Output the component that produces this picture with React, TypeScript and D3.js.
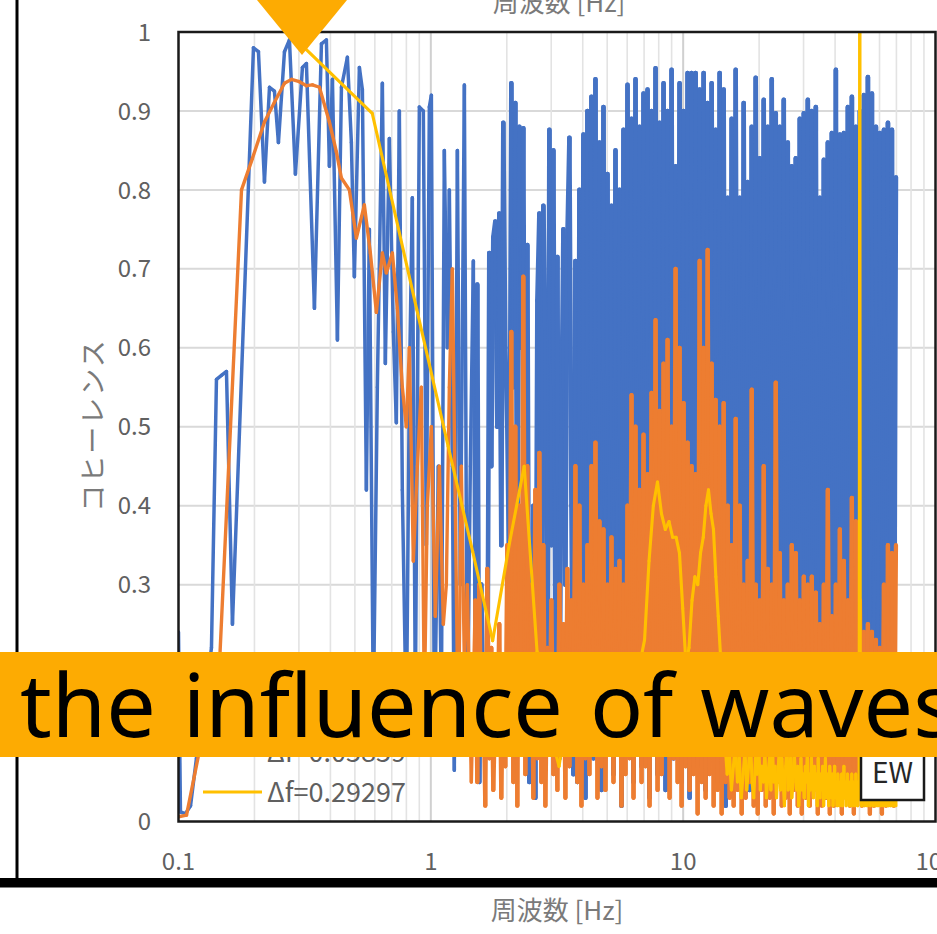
import React from "react";
import * as d3 from "d3";

const WIDTH = 937;
const HEIGHT = 934;

const xTickValues = [0.1, 1, 10, 100];
const xTickLabels = ["0.1", "1", "10", "100"];
const yTickValues = [0, 0.1, 0.2, 0.3, 0.4, 0.5, 0.6, 0.7, 0.8, 0.9, 1];
const yTickLabels = ["0", "0.1", "0.2", "0.3", "0.4", "0.5", "0.6", "0.7", "0.8", "0.9", "1"];
const xMinorGrid = [0.2, 0.3, 0.4, 0.5, 0.6, 0.7, 0.8, 0.9, 2, 3, 4, 5, 6, 7, 8, 9, 20, 30, 40, 50, 60, 70, 80, 90];
const xMajorGrid = [1, 10];

const seriesNames = ["Δf=0.01465", "Δf=0.05859", "Δf=0.29297"];
const seriesColors = ["#4472c4", "#ed7d31", "#ffc000"];
const seriesWidths = [3.5, 3.4, 3.1];
const denseWidths = [4.6, 4.3, 3.1];

const xAxisTitle = "周波数 [Hz]";
const yAxisTitle = "コヒーレンス";
const stationLabel = "EW";
const bannerText = "the influence of waves";

// Blue series (fine Δf): low-frequency part read point by point
const blueLowFreq = [
  0.1, 0.1018, 0.1066, 0.1116, 0.1178, 0.1279, 0.1351, 0.1414, 0.148, 0.1549,
  0.1636, 0.1982, 0.2074, 0.2191, 0.2294, 0.24, 0.2489, 0.263, 0.2752, 0.2906,
  0.3098, 0.3213, 0.3457, 0.3685, 0.3856, 0.3963, 0.4074, 0.4264, 0.4423, 0.467,
  0.4843, 0.4977, 0.521, 0.5355, 0.5554, 0.5706, 0.5918, 0.6138, 0.6425, 0.6603,
  0.6848, 0.7103, 0.73, 0.7502, 0.771, 0.7998, 0.822, 0.8447, 0.8682, 0.9005,
  0.9339, 0.9598, 0.9865, 1.005, 1.033, 1.071, 1.101, 1.131, 1.162, 1.184,
  1.217, 1.239, 1.274, 1.309, 1.358, 1.395, 1.434, 1.474,
];
const blueLowVal = [
  0.24, 0.012, 0.01, 0.02, 0.08, 0.16, 0.22, 0.56, 0.565, 0.57,
  0.25, 0.98, 0.975, 0.81, 0.93, 0.925, 0.86, 0.975, 0.99, 0.82,
  0.955, 0.96, 0.65, 0.985, 0.99, 0.83, 0.94, 0.61, 0.93, 0.968,
  0.86, 0.69, 0.955, 0.927, 0.42, 0.75, 0.14, 0.55, 0.935, 0.58,
  0.865, 0.62, 0.505, 0.9, 0.42, 0.12, 0.55, 0.79, 0.15, 0.905,
  0.9, 0.35, 0.905, 0.92, 0.1, 0.45, 0.15, 0.85, 0.6, 0.8,
  0.45, 0.065, 0.85, 0.3, 0.933, 0.1, 0.45, 0.71,
];
// Blue series, dense part: values on a log-spaced frequency grid from 1.5 Hz to 69.7 Hz
const blueHighRange = [1.5, 69.7];
const blueHighVal = [
  0.15, 0.68, 0.05, 0.30, 0.12, 0.20, 0.10, 0.72, 0.45, 0.74,
  0.76, 0.50, 0.77, 0.35, 0.885, 0.60, 0.50, 0.30, 0.935, 0.55,
  0.91, 0.25, 0.88, 0.60, 0.878, 0.15, 0.73, 0.05, 0.10, 0.40,
  0.03, 0.66, 0.77, 0.20, 0.78, 0.62, 0.10, 0.876, 0.35, 0.85,
  0.20, 0.715, 0.08, 0.50, 0.75, 0.30, 0.74, 0.866, 0.40, 0.06,
  0.71, 0.05, 0.80, 0.12, 0.87, 0.03, 0.90, 0.18, 0.918, 0.08,
  0.94, 0.15, 0.86, 0.04, 0.905, 0.10, 0.82, 0.20, 0.78, 0.06,
  0.85, 0.14, 0.80, 0.02, 0.876, 0.09, 0.933, 0.17, 0.89, 0.05,
  0.94, 0.11, 0.88, 0.07, 0.922, 0.19, 0.927, 0.03, 0.90, 0.13,
  0.954, 0.06, 0.885, 0.16, 0.935, 0.04, 0.90, 0.12, 0.952, 0.08,
  0.83, 0.18, 0.935, 0.05, 0.90, 0.10, 0.948, 0.03, 0.948, 0.15,
  0.948, 0.07, 0.927, 0.12, 0.948, 0.04, 0.91, 0.17, 0.935, 0.09,
  0.876, 0.05, 0.948, 0.14, 0.927, 0.02, 0.79, 0.11, 0.89, 0.06,
  0.952, 0.16, 0.79, 0.08, 0.91, 0.13, 0.81, 0.04, 0.88, 0.10,
  0.942, 0.07, 0.84, 0.18, 0.914, 0.05, 0.88, 0.12, 0.94, 0.03,
  0.897, 0.15, 0.88, 0.08, 0.914, 0.11, 0.86, 0.06, 0.83, 0.14,
  0.84, 0.04, 0.89, 0.17, 0.897, 0.09, 0.914, 0.05, 0.90, 0.12,
  0.905, 0.07, 0.79, 0.16, 0.838, 0.03, 0.86, 0.10, 0.872, 0.06,
  0.952, 0.13, 0.87, 0.08, 0.872, 0.18, 0.905, 0.04, 0.918, 0.11,
  0.88, 0.07, 0.90, 0.15, 0.92, 0.05, 0.943, 0.12, 0.922, 0.09,
  0.88, 0.03, 0.872, 0.14, 0.876, 0.06, 0.885, 0.10, 0.876, 0.08,
  0.816,
];

// Orange series (medium Δf): low-frequency part
const orangeLowFreq = [
  0.1, 0.1076, 0.1211, 0.1454, 0.1777, 0.1964, 0.2191, 0.24, 0.263, 0.2803,
  0.3014, 0.3213, 0.3395, 0.3618, 0.3963, 0.4224, 0.4422, 0.4756, 0.507, 0.5452,
  0.5759, 0.6084, 0.6425, 0.6665, 0.704, 0.7368, 0.771, 0.7998, 0.822, 0.8525,
  0.8842, 0.917, 0.9425, 0.9685, 1.005, 1.042, 1.081, 1.121, 1.152, 1.184,
  1.217, 1.25, 1.285, 1.321, 1.358, 1.395, 1.447,
];
const orangeLowVal = [
  0.006, 0.008, 0.09, 0.2, 0.8, 0.84, 0.886, 0.911, 0.935, 0.94,
  0.937, 0.932, 0.933, 0.93, 0.886, 0.848, 0.815, 0.8, 0.739, 0.781,
  0.72, 0.645, 0.72, 0.695, 0.72, 0.65, 0.55, 0.5, 0.6, 0.33,
  0.45, 0.55, 0.15, 0.4, 0.5, 0.26, 0.45, 0.25, 0.3, 0.55,
  0.7, 0.4, 0.1, 0.45, 0.2, 0.3, 0.05,
];
// Orange series, dense part on the same log-spaced grid: alternating peaks and troughs
const orangeHighRange = [1.5, 69.7];
const orangeHighPeaks = [
  0.28, 0.30, 0.18, 0.32, 0.22, 0.15, 0.25, 0.20, 0.35, 0.62,
  0.50, 0.40, 0.69, 0.45, 0.30, 0.42, 0.467, 0.35, 0.22, 0.28,
  0.20, 0.30, 0.25, 0.32, 0.28, 0.45, 0.40, 0.30, 0.35, 0.45,
  0.48, 0.38, 0.37, 0.30, 0.36, 0.32, 0.33, 0.30, 0.40, 0.54,
  0.50, 0.42, 0.49, 0.44, 0.543, 0.635, 0.52, 0.58, 0.61, 0.50,
  0.70, 0.60, 0.53, 0.48, 0.45, 0.44, 0.71, 0.60, 0.724, 0.58,
  0.534, 0.50, 0.53, 0.40, 0.35, 0.51, 0.40, 0.30, 0.33, 0.547,
  0.30, 0.28, 0.45, 0.32, 0.30, 0.556, 0.34, 0.28, 0.30, 0.35,
  0.34, 0.28, 0.31, 0.30, 0.31, 0.29, 0.25, 0.30, 0.42, 0.26,
  0.30, 0.37, 0.33, 0.28, 0.41, 0.38, 0.28, 0.24, 0.25, 0.24,
  0.23, 0.22, 0.30, 0.35, 0.34, 0.35,
];
const orangeHighTroughs = [
  0.05, 0.10, 0.02, 0.08, 0.04, 0.12, 0.03, 0.07, 0.10, 0.05,
  0.02, 0.09, 0.06, 0.11, 0.03, 0.08, 0.05, 0.02, 0.10, 0.06,
  0.04, 0.09, 0.03, 0.07, 0.12, 0.05, 0.02, 0.08, 0.06, 0.10,
  0.03, 0.07, 0.04, 0.09, 0.05, 0.11, 0.02, 0.06, 0.08, 0.03,
  0.10, 0.05, 0.07, 0.02, 0.09, 0.04, 0.06, 0.11, 0.03, 0.08,
  0.05, 0.02, 0.07, 0.04, 0.06, 0.01, 0.05, 0.03, 0.06, 0.02,
  0.04, 0.01, 0.05, 0.03, 0.02, 0.04, 0.01, 0.03, 0.05, 0.02,
  0.01, 0.04, 0.02, 0.03, 0.01, 0.05, 0.02, 0.03, 0.01, 0.04,
  0.02, 0.01, 0.03, 0.02, 0.04, 0.01, 0.02, 0.03, 0.01, 0.02,
  0.04, 0.01, 0.03, 0.02, 0.01, 0.03, 0.02, 0.04, 0.01, 0.02,
  0.03, 0.01, 0.02, 0.04, 0.02,
];

// Yellow series: Δf = 0.29297 Hz, values for k = 1..238
const yellowDf = 0.29297;
const yellowVal = [
  0.99, 0.897, 0.649, 0.475, 0.342, 0.229, 0.353, 0.45, 0.215, 0.12,
  0.07, 0.15, 0.18, 0.12, 0.16, 0.10, 0.19, 0.14, 0.17, 0.11,
  0.18, 0.15, 0.20, 0.23, 0.33, 0.40, 0.43, 0.39, 0.37, 0.38,
  0.36, 0.36, 0.34, 0.27, 0.20, 0.22, 0.28, 0.31, 0.30, 0.34,
  0.36, 0.40, 0.42, 0.39, 0.37, 0.31, 0.26, 0.21, 0.15, 0.10,
  0.06, 0.09, 0.04, 0.07, 0.10, 0.05, 0.08, 0.03, 0.06, 0.09,
  0.04, 0.07, 0.11, 0.05, 0.03, 0.08, 0.06, 0.10, 0.04, 0.07,
  0.05, 0.09, 0.03, 0.06, 0.08, 0.04, 0.10, 0.05, 0.07, 0.03,
  0.06, 0.09, 0.04, 0.08, 0.05, 0.02, 0.07, 0.10, 0.04, 0.06,
  0.08, 0.03, 0.05, 0.09, 0.06, 0.04, 0.07, 0.02, 0.05, 0.08,
  0.04, 0.06, 0.03, 0.07, 0.05, 0.09, 0.02, 0.06, 0.04, 0.08,
  0.05, 0.03, 0.07, 0.04, 0.06, 0.02, 0.08, 0.05, 0.03, 0.06,
  0.04, 0.07, 0.02, 0.05, 0.08, 0.03, 0.06, 0.04, 0.02, 0.07,
  0.05, 0.03, 0.06, 0.02, 0.04, 0.07, 0.03, 0.05, 0.02, 0.06,
  0.04, 0.02, 0.05, 0.03, 0.06, 0.02, 0.04, 0.07, 0.03, 0.05,
  0.02, 0.04, 0.06, 0.03, 0.05, 0.02, 0.04, 0.03, 0.06, 0.02,
  0.05, 0.03, 0.04, 0.02, 0.06, 0.03, 0.05, 0.02, 0.04, 0.03,
  1.00, 0.03, 0.05, 0.02, 0.04, 0.06, 0.03, 0.05, 0.02, 0.04,
  0.03, 0.06, 0.02, 0.05, 0.03, 0.04, 0.07, 0.02, 0.05, 0.03,
  0.06, 0.04, 0.02, 0.05, 0.03, 0.07, 0.04, 0.02, 0.06, 0.03,
  0.05, 0.02, 0.04, 0.06, 0.03, 0.05, 0.02, 0.04, 0.07, 0.03,
  0.05, 0.02, 0.06, 0.04, 0.03, 0.05, 0.02, 0.04, 0.06, 0.03,
  0.05, 0.02, 0.04, 0.03, 0.06, 0.02, 0.05, 0.03, 0.04, 0.02,
  0.05, 0.03, 0.06, 0.02, 0.04, 0.03, 0.05, 0.02,
];

type Pt = [number, number];

function logGrid(range: number[], n: number): number[] {
  const idx = d3.scaleLog().domain(range).range([0, n - 1]);
  return d3.range(n).map((i) => idx.invert(i));
}

const FONT = "'Noto Sans CJK JP', 'Noto Sans', sans-serif";
const TEXT_GRAY = "#606060";
const BANNER = "#fdab02";

export default function App() {
  const plotLeft = 178.5;
  const plotRight = 935.5;
  const plotTop = 32;
  const plotBottom = 821.5;

  const x = d3.scaleLog().domain([0.1, 100]).range([plotLeft, plotRight]);
  const y = d3.scaleLinear().domain([0, 1]).range([plotBottom, plotTop]);

  const blueGrid = logGrid(blueHighRange, blueHighVal.length);
  const blue: Pt[] = [
    ...blueLowFreq.map((f, i) => [f, blueLowVal[i]] as Pt),
    ...blueGrid.map((f, i) => [f, blueHighVal[i]] as Pt),
  ];

  const orangeHighVal = orangeHighPeaks.flatMap((p, j) =>
    j < orangeHighTroughs.length ? [p, orangeHighTroughs[j]] : [p]
  );
  const orangeGrid = logGrid(orangeHighRange, orangeHighVal.length);
  const orange: Pt[] = [
    ...orangeLowFreq.map((f, i) => [f, orangeLowVal[i]] as Pt),
    ...orangeGrid.map((f, i) => [f, orangeHighVal[i]] as Pt),
  ];

  const yellow: Pt[] = yellowVal.map((v, i) => [(i + 1) * yellowDf, v] as Pt);

  const series = [blue, orange, yellow];
  const denseStart = [blueLowFreq.length, orangeLowFreq.length, yellowVal.length];

  const legendX1 = 203;
  const legendX2 = 262;
  const legendRowY = [712, 752, 792];

  return (
    <svg width={WIDTH} height={HEIGHT} style={{ display: "block", position: "absolute", left: 0, top: 0, background: "#fff" }}>
      <defs>
        <clipPath id="plotClip">
          <rect x={plotLeft} y={plotTop} width={plotRight - plotLeft} height={plotBottom - plotTop} />
        </clipPath>
      </defs>
      <rect x={0} y={0} width={WIDTH} height={HEIGHT} fill="#fff" />

      {/* top (cut) title */}
      <text x={559} y={12} textAnchor="middle" fontFamily={FONT} fontSize={26} fill="#7a7a7a">
        {xAxisTitle}
      </text>

      {/* grid */}
      {yTickValues.slice(1, -1).map((v) => (
        <line key={"gy" + v} x1={plotLeft} x2={plotRight} y1={y(v)} y2={y(v)} stroke="#d9d9d9" strokeWidth={2} />
      ))}
      {xMinorGrid.map((f) => (
        <line key={"gx" + f} x1={x(f)} x2={x(f)} y1={plotTop} y2={plotBottom} stroke="#e3e3e3" strokeWidth={1.6} />
      ))}
      {xMajorGrid.map((f) => (
        <line key={"gX" + f} x1={x(f)} x2={x(f)} y1={plotTop} y2={plotBottom} stroke="#d0d0d0" strokeWidth={2} />
      ))}

      {/* data: each series drawn segment by segment */}
      <g clipPath="url(#plotClip)">
        {series.map((s, i) => (
          <g key={"s" + i} stroke={seriesColors[i]} strokeLinecap="round">
            {d3.pairs(s).map(([a, b], j) => (
              <line
                key={j}
                x1={x(a[0])}
                y1={y(a[1])}
                x2={x(b[0])}
                y2={y(b[1])}
                strokeWidth={j >= denseStart[i] ? denseWidths[i] : seriesWidths[i]}
              />
            ))}
          </g>
        ))}
      </g>

      {/* plot frame */}
      <rect
        x={plotLeft}
        y={plotTop}
        width={plotRight - plotLeft}
        height={plotBottom - plotTop}
        fill="none"
        stroke="#1a1a1a"
        strokeWidth={2.5}
      />

      {/* y tick labels */}
      {yTickValues.map((v, i) => (
        <text
          key={"ty" + v}
          x={151}
          y={y(v)}
          dy="0.36em"
          textAnchor="end"
          fontFamily={FONT}
          fontSize={24}
          fill={TEXT_GRAY}
        >
          {yTickLabels[i]}
        </text>
      ))}

      {/* x tick labels */}
      {xTickValues.map((f, i) => (
        <text
          key={"tx" + f}
          x={x(f)}
          y={870}
          textAnchor="middle"
          fontFamily={FONT}
          fontSize={24}
          fill={TEXT_GRAY}
        >
          {xTickLabels[i]}
        </text>
      ))}

      {/* y axis title */}
      <text
        transform="translate(93,425) rotate(-90)"
        textAnchor="middle"
        dy="0.36em"
        fontFamily={FONT}
        fontSize={27}
        letterSpacing={2}
        fill="#7a7a7a"
      >
        {yAxisTitle}
      </text>

      {/* legend */}
      {seriesNames.map((name, i) => (
        <g key={"lg" + i}>
          <line x1={legendX1} x2={legendX2} y1={legendRowY[i]} y2={legendRowY[i]} stroke={seriesColors[i]} strokeWidth={3} />
          <text x={267} y={legendRowY[i]} dy="0.36em" fontFamily={FONT} fontSize={27} fill={TEXT_GRAY}>
            {name}
          </text>
        </g>
      ))}

      {/* station label box */}
      <rect x={861} y={742} width={63} height={58} fill="#fff" stroke="#1a1a1a" strokeWidth={2.5} />
      <text x={892.5} y={783} textAnchor="middle" fontFamily={FONT} fontSize={28} fill="#262626">
        {stationLabel}
      </text>

      {/* outer frame lines */}
      <line x1={17} x2={17} y1={0} y2={880} stroke="#000" strokeWidth={3} />
      <rect x={0} y={878} width={WIDTH} height={9.5} fill="#000" />

      {/* bottom axis title */}
      <text x={557} y={920} textAnchor="middle" fontFamily={FONT} fontSize={26} fill="#7a7a7a">
        {xAxisTitle}
      </text>

      {/* banner overlay */}
      <rect x={0} y={652} width={WIDTH} height={105} fill={BANNER} />
      <text x={20} y={737} fontFamily="'Noto Sans', sans-serif" fontSize={88} wordSpacing={4} fill="#000">
        {bannerText}
      </text>

      {/* pointer triangle */}
      <polygon points="257,0 347,0 302,55" fill={BANNER} />
    </svg>
  );
}
